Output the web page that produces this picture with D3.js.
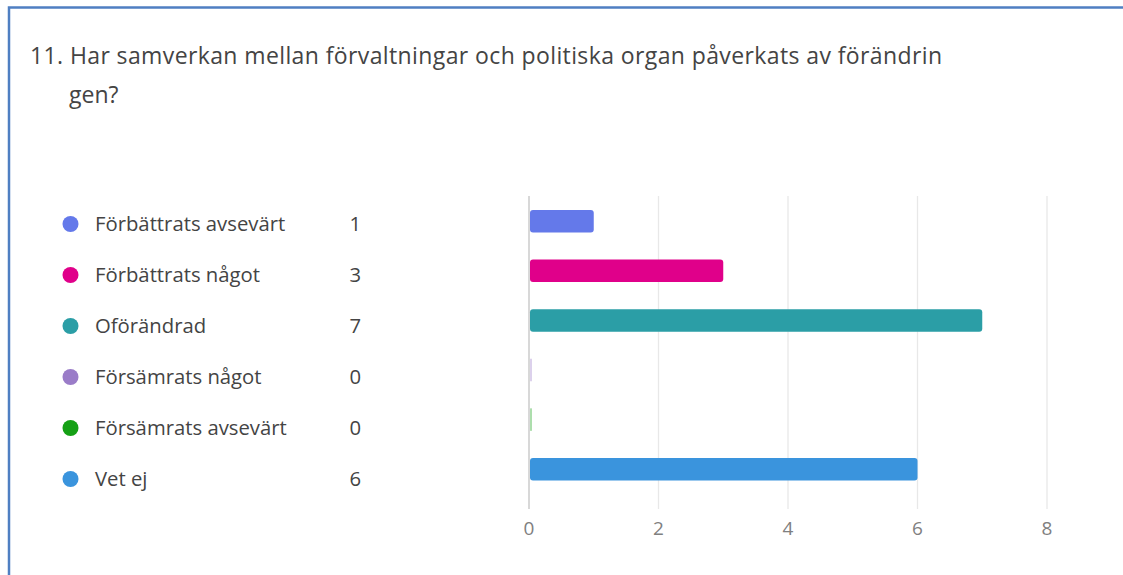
<!DOCTYPE html>
<html><head><meta charset="utf-8">
<script src="https://cdn.jsdelivr.net/npm/d3@7"></script>
<style>body{margin:0;background:#fff;}svg{display:block;font-family:"Open Sans","Noto Sans",sans-serif;}</style>
</head><body>
<svg id="c" width="1123" height="575"></svg>
<script>
const titleLines = ["11. Har samverkan mellan förvaltningar och politiska organ påverkats av förändrin", "gen?"];
const categories = ["Förbättrats avsevärt", "Förbättrats något", "Oförändrad", "Försämrats något", "Försämrats avsevärt", "Vet ej"];
const values = [1, 3, 7, 0, 0, 6];
const colors = ["#6479ea", "#e0008a", "#2b9ea6", "#9a7cc8", "#15a015", "#3a94dd"];
const xTicks = [0, 2, 4, 6, 8];

const svg = d3.select("#c");
// frame
svg.append("path").attr("d", "M9,576 L9,7.5 L1124,7.5").attr("fill", "none").attr("stroke", "#4f7fc2").attr("stroke-width", 2.5);

svg.selectAll("text.title").data(titleLines).join("text")
  .attr("x", (d, i) => i === 0 ? 30 : 69)
  .attr("y", (d, i) => 64 + i * 39)
  .attr("fill", "#444")
  .attr("font-size", 23)
  .attr("textLength", (d, i) => i === 0 ? 912 : null)
  .attr("lengthAdjust", "spacing")
  .text(d => d);

const x = d3.scaleLinear().domain([0, 8]).range([529, 1047]);
const y = d3.scaleBand().domain(categories).range([200, 490.4]).paddingInner(0.546).paddingOuter(0.2);

// grid
svg.selectAll("line.grid").data(xTicks).join("line")
  .attr("x1", d => x(d)).attr("x2", d => x(d))
  .attr("y1", 196).attr("y2", 509)
  .attr("stroke", d => d === 0 ? "#d8d8d8" : "#e8e8e8").attr("stroke-width", d => d === 0 ? 2 : 1.3);

svg.selectAll("text.tick").data(xTicks).join("text")
  .attr("x", d => x(d)).attr("y", 535)
  .attr("text-anchor", "middle").attr("fill", "#808080").attr("font-size", 19)
  .text(d => d);

// bars
svg.selectAll("rect.bar").data(values).join("rect")
  .attr("x", x(0) + 1)
  .attr("y", (d, i) => y(categories[i]))
  .attr("width", d => d === 0 ? 2 : x(d) - x(0) - 1)
  .attr("height", y.bandwidth())
  .attr("rx", d => d === 0 ? 0 : 3)
  .attr("fill", (d, i) => colors[i])
  .attr("opacity", d => d === 0 ? 0.35 : 1);

// legend
const ly = d3.scalePoint().domain(categories).range([224, 479]);
const lg = svg.selectAll("g.leg").data(categories).join("g")
  .attr("transform", d => `translate(0,${ly(d)})`);
lg.append("circle").attr("cx", 70.5).attr("cy", 0).attr("r", 8).attr("fill", (d, i) => colors[i]);
lg.append("text").attr("x", 95).attr("y", 0).attr("dy", "0.35em").attr("fill", "#444").attr("font-size", 20.3).text(d => d);
lg.append("text").attr("x", 361).attr("y", 0).attr("dy", "0.35em").attr("text-anchor", "end").attr("fill", "#444").attr("font-size", 20.3).text((d, i) => values[i]);
</script>
</body></html>
